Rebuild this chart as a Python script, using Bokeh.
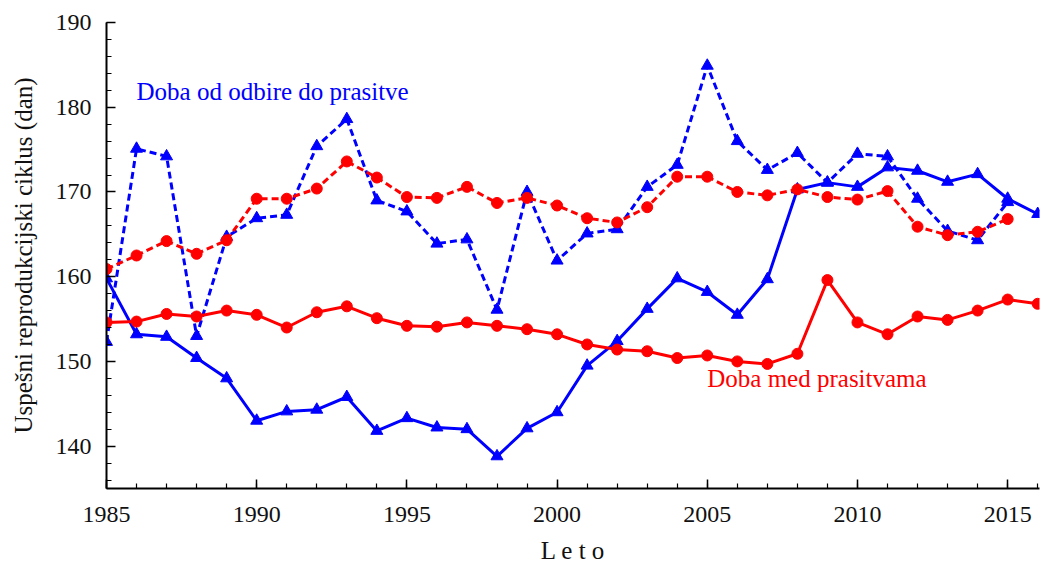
from bokeh.plotting import figure
from bokeh.models import SingleIntervalTicker, Label, Range1d
from bokeh.embed import file_html
from bokeh.resources import INLINE

years = list(range(1985, 2017))
years_dashed = list(range(1985, 2016))

# Blue solid (triangles)
blue_solid = [159.8, 153.2, 152.9, 150.4, 148.0, 143.0, 144.1, 144.3, 145.8, 141.8,
              143.3, 142.2, 142.0, 138.8, 142.1, 144.0, 149.5, 152.4, 156.2, 159.8,
              158.2, 155.5, 159.7, 170.3, 171.1, 170.6, 172.9, 172.5, 171.2, 172.1,
              169.2, 167.4]
# Blue dashed (triangles) - Doba od odbire do prasitve
blue_dashed = [152.3, 175.1, 174.2, 153.0, 164.7, 166.9, 167.3, 175.4, 178.6, 169.0,
               167.7, 163.9, 164.4, 156.1, 170.0, 161.9, 165.1, 165.6, 170.6, 173.2,
               184.9, 176.0, 172.6, 174.6, 171.1, 174.5, 174.2, 169.2, 165.4, 164.3,
               168.8]
# Red solid (circles) - Doba med prasitvama
red_solid = [154.6, 154.7, 155.6, 155.3, 156.0, 155.5, 154.0, 155.8, 156.5, 155.1,
             154.2, 154.1, 154.6, 154.2, 153.8, 153.2, 152.0, 151.4, 151.2, 150.4,
             150.7, 150.0, 149.7, 150.9, 159.6, 154.6, 153.2, 155.3, 154.9, 156.0,
             157.3, 156.8]
# Red dashed (circles)
red_dashed = [160.9, 162.5, 164.2, 162.7, 164.3, 169.2, 169.2, 170.4, 173.6, 171.7,
              169.4, 169.3, 170.6, 168.7, 169.3, 168.4, 166.9, 166.4, 168.2, 171.8,
              171.8, 170.0, 169.6, 170.3, 169.4, 169.1, 170.1, 165.9, 164.9, 165.3,
              166.8]

BLUE = "blue"
RED = "red"
FONT = "Liberation Serif"

p = figure(frame_width=933, frame_height=466, output_backend="svg",
           toolbar_location=None, x_range=Range1d(1985, 2016.06),
           y_range=Range1d(135, 190), min_border_left=106, min_border_top=22,
           min_border_right=3, min_border_bottom=10)
p.outline_line_color = None
p.xgrid.visible = False
p.ygrid.visible = False

p.line(years, blue_solid, line_color=BLUE, line_width=3)
p.scatter(years, blue_solid, marker="triangle", size=12, color=BLUE)
p.line(years_dashed, blue_dashed, line_color=BLUE, line_width=3, line_dash="7 4")
p.scatter(years_dashed, blue_dashed, marker="triangle", size=12, color=BLUE)
p.line(years, red_solid, line_color=RED, line_width=3)
p.scatter(years, red_solid, marker="circle", size=11, color=RED)
p.line(years_dashed, red_dashed, line_color=RED, line_width=3, line_dash="7 4")
p.scatter(years_dashed, red_dashed, marker="circle", size=11, color=RED)

p.xaxis.ticker = SingleIntervalTicker(interval=5, num_minor_ticks=5)
p.yaxis.ticker = SingleIntervalTicker(interval=10, num_minor_ticks=5)

for ax in (p.xaxis, p.yaxis):
    ax.axis_line_width = 2
    ax.axis_line_color = "black"
    ax.major_tick_in = 9
    ax.major_tick_out = 0
    ax.minor_tick_in = 5
    ax.minor_tick_out = 0
    ax.major_tick_line_width = 1.5
    ax.minor_tick_line_width = 1.2
    ax.major_label_text_font = FONT
    ax.major_label_text_font_size = "24px"
    ax.major_label_text_color = "#111111"
    ax.axis_label_text_font = FONT
    ax.axis_label_text_font_size = "25px"
    ax.axis_label_text_font_style = "normal"
    ax.axis_label_text_color = "#111111"

p.xaxis.axis_label = "L e t o"
p.yaxis.axis_label = "Uspešni reprodukcijski ciklus (dan)"
p.xaxis.major_label_standoff = 18
p.yaxis.major_label_standoff = 15
p.xaxis.axis_label_standoff = 12
p.yaxis.axis_label_standoff = 16

p.add_layout(Label(x=1986.0, y=181.8, text="Doba od odbire do prasitve",
                   text_color=BLUE, text_font=FONT, text_font_size="25px",
                   text_baseline="middle"))
p.add_layout(Label(x=2005.0, y=148.0, text="Doba med prasitvama",
                   text_color=RED, text_font=FONT, text_font_size="25px",
                   text_baseline="middle"))

open("out.html", "w").write(file_html(p, INLINE))
